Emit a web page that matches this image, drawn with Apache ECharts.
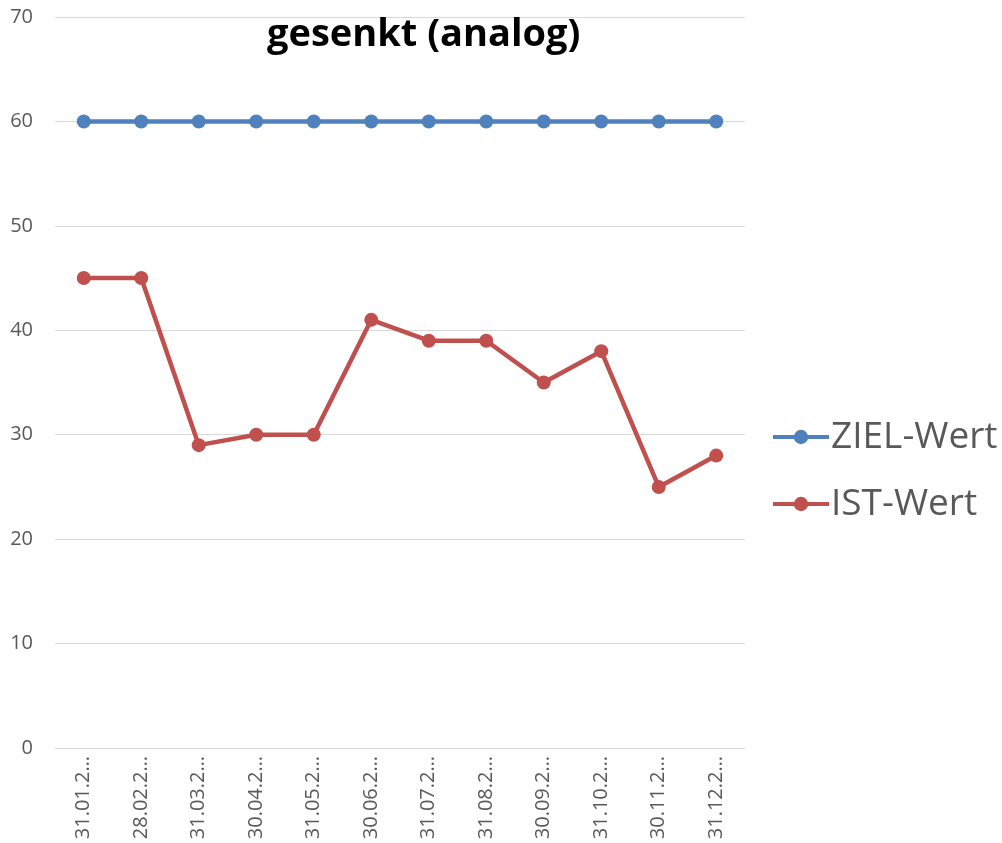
<!DOCTYPE html>
<html><head><meta charset="utf-8">
<script src="https://cdn.jsdelivr.net/npm/echarts@6/dist/echarts.min.js"></script>
<style>html,body{margin:0;padding:0;background:#fff}#c{width:1002px;height:843px}</style>
</head><body><div id="c"></div>
<script>
const categories = ["31.01.2…","28.02.2…","31.03.2…","30.04.2…","31.05.2…","30.06.2…","31.07.2…","31.08.2…","30.09.2…","31.10.2…","30.11.2…","31.12.2…"];
const zielWert = [60,60,60,60,60,60,60,60,60,60,60,60];
const istWert = [45,45,29,30,30,41,39,39,35,38,25,28];
const yTicks = {min:0, max:70, interval:10};

const chart = echarts.init(document.getElementById('c'), null, {renderer:'canvas'});
chart.setOption({
  animation:false,
  backgroundColor:'#fff',
  title:{text:'gesenkt (analog)', left:262, top:11,
    textStyle:{fontFamily:'Open Sans', fontWeight:'bold', fontSize:38, color:'#000'}},
  grid:{left:55, right:257, top:17, bottom:95, containLabel:false},
  legend:{orient:'vertical', left:766, top:412, itemWidth:56, itemHeight:18, itemGap:27,
    lineStyle:{width:4},
    textStyle:{fontFamily:'Open Sans', fontSize:37, lineHeight:40, color:'#595959', padding:[0,0,0,-3]},
    data:['ZIEL-Wert','IST-Wert']},
  xAxis:{type:'category', data:categories, boundaryGap:true,
    axisLine:{show:true, lineStyle:{color:'#d9d9d9', width:1}},
    axisTick:{show:false},
    axisLabel:{rotate:90, interval:0, margin:8, fontFamily:'Open Sans', fontSize:20, color:'#595959'}},
  yAxis:{type:'value', min:yTicks.min, max:yTicks.max, interval:yTicks.interval,
    axisLine:{show:false}, axisTick:{show:false},
    splitLine:{lineStyle:{color:'#d9d9d9', width:1}},
    axisLabel:{margin:22, fontFamily:'Open Sans', fontSize:20, color:'#595959'}},
  series:[
    {name:'ZIEL-Wert', type:'line', data:zielWert, symbol:'circle', symbolSize:14,
      lineStyle:{width:4.5, color:'#4F81BD'}, itemStyle:{color:'#4F81BD'}},
    {name:'IST-Wert', type:'line', data:istWert, symbol:'circle', symbolSize:14,
      lineStyle:{width:4.5, color:'#C0504D'}, itemStyle:{color:'#C0504D'}}
  ]
});
</script></body></html>
